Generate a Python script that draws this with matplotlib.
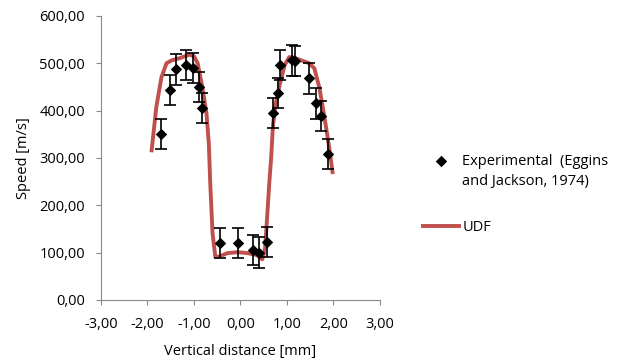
import matplotlib.pyplot as plt
from matplotlib.ticker import FuncFormatter
from matplotlib.legend_handler import HandlerPathCollection

# experimental points with error bars
exp_x = [-1.70, -1.51, -1.38, -1.18, -1.03, -0.90, -0.82, -0.43, -0.06, 0.26, 0.39, 0.58,
         0.69, 0.80, 0.85, 1.10, 1.18, 1.48, 1.63, 1.74, 1.89]
exp_y = [350, 443, 487, 497, 490, 450, 405, 120, 120, 105, 100, 122,
         395, 437, 497, 506, 505, 468, 415, 388, 308]
exp_err = [32] * len(exp_x)

# simulated profile
udf_x = [-1.91, -1.81, -1.70, -1.59, -1.48, -1.30, -1.10, -1.00, -0.92, -0.82, -0.73, -0.68,
         -0.65, -0.60, -0.54, -0.45, -0.28, -0.06, 0.15, 0.35, 0.47, 0.53, 0.56, 0.62,
         0.66, 0.70, 0.75, 0.84, 0.95, 1.05, 1.20, 1.48, 1.59, 1.70, 1.81, 1.91, 1.98]
udf_y = [316, 407, 470, 500, 506, 511, 518, 515, 500, 449, 394, 330,
         247, 141, 91, 92, 99, 101, 99, 95, 86, 110, 154, 247,
         300, 370, 410, 453, 496, 513, 510, 500, 489, 447, 384, 321, 270]

plt.rcParams['font.family'] = 'Open Sans'

fig = plt.figure(figsize=(6.27, 3.61), dpi=100)
ax = fig.add_axes([0.161, 0.169, 0.445, 0.787])

ax.plot(udf_x, udf_y, color='#c0504d', lw=2.8, label='UDF', zorder=2)
ax.errorbar(exp_x, exp_y, yerr=exp_err, fmt='none', ecolor='black', elinewidth=1.2,
            capsize=4, capthick=1.2, zorder=3)
pts = ax.scatter(exp_x, exp_y, marker='D', s=34, color='black', linewidths=0,
                 label='Experimental  (Eggins\nand Jackson, 1974)', zorder=4)

ax.set_xlim(-3, 3)
ax.set_ylim(0, 600)
ax.set_xticks([-3, -2, -1, 0, 1, 2, 3])
ax.set_yticks(range(0, 601, 100))
comma = FuncFormatter(lambda v, p: ('%.2f' % v).replace('.', ','))
ax.xaxis.set_major_formatter(comma)
ax.yaxis.set_major_formatter(comma)
ax.tick_params(labelsize=10.5, color='#888888', length=3.6, width=0.8)
ax.tick_params(axis='x', pad=9)
ax.tick_params(axis='y', pad=8)

for s in ['top', 'right']:
    ax.spines[s].set_visible(False)
for s in ['left', 'bottom']:
    ax.spines[s].set_color('#888888')
    ax.spines[s].set_linewidth(0.8)

ax.set_xlabel('Vertical distance [mm]', fontsize=10.5, labelpad=8)
ax.set_ylabel('Speed [m/s]', fontsize=10.5, labelpad=6)

h, l = ax.get_legend_handles_labels()
leg = fig.legend(h[::-1], l[::-1], loc='upper left', bbox_to_anchor=(423 / 627, 1 - 154 / 361),
                 frameon=False, fontsize=10.5, handlelength=2.5, handletextpad=0.2,
                 labelspacing=2.15, borderpad=0, borderaxespad=0, scatterpoints=1,
                 handler_map={pts: HandlerPathCollection(yoffsets=[1.6])})
for t in leg.get_texts():
    t.set_linespacing(1.45)

fig.savefig('out.png', dpi=100)
